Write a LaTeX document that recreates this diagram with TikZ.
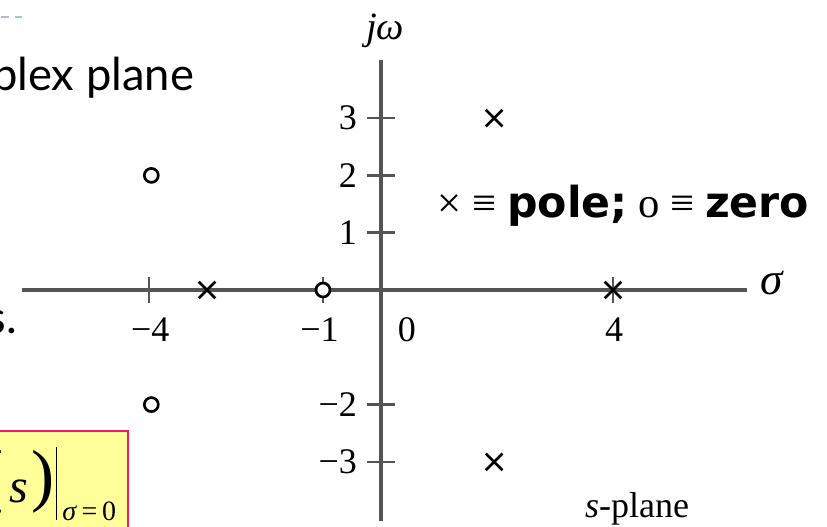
\documentclass[tikz,border=0pt]{standalone}
\usepackage{fontspec}
\setmainfont{Liberation Serif}
\newfontfamily\legendfont{DejaVu Sans}
\newfontfamily\slidefont{Lato}
\usepackage{xcolor}
\usetikzlibrary{shapes.misc}
\definecolor{axisgray}{HTML}{555555}
\definecolor{boxpink}{HTML}{F0196A}
\definecolor{boxyellow}{HTML}{FFFF99}
\definecolor{rulegray}{HTML}{A9C0D9}
\tikzset{
  pole/.style={draw=black,cross out,line width=2pt,minimum size=10.5pt,inner sep=0pt},
  zero/.style={draw=black,circle,fill=white,line width=2pt,minimum size=10.5pt,inner sep=0pt},
  ticklbl/.style={font=\fontsize{27}{31}\selectfont,inner sep=0pt},
  axisline/.style={axisgray,line width=2.4pt},
  tickline/.style={axisgray,line width=2pt},
}

\begin{document}
\begin{tikzpicture}[x=43.5pt,y=42.975pt]
  \useasboundingbox (-6.569,-4.119) rectangle (7.690,5.061);
  % what is left of the slide on the left
  \draw[rulegray,line width=1.6pt,dash pattern=on 6pt off 4.5pt] (-6.552,4.764) -- (-6.19,4.764);
  \node[font=\slidefont\fontsize{34}{40}\selectfont,anchor=base east,inner sep=0pt] (title) at (-3.22,3.490) {plex plane};
  \node[font=\slidefont\fontsize{34}{40}\selectfont,anchor=base east,inner sep=0pt] (bullet) at (-6.276,-0.768) {s.};
  \draw[boxpink,fill=boxyellow,line width=1.5pt] (-6.741,-2.461) rectangle (-4.362,-4.363);
  \node[font=\fontsize{52}{52}\selectfont,inner sep=0pt] (lpar) at (-6.707,-3.351) {(};
  \node[font=\fontsize{36}{36}\selectfont\itshape,inner sep=0pt] (sval) at (-6.241,-3.508) {s};
  \node[font=\fontsize{52}{52}\selectfont,inner sep=0pt] (rpar) at (-5.828,-3.351) {)};
  \draw[line width=1.1pt] (-5.595,-2.740) -- (-5.595,-4.014);
  \node[font=\fontsize{21}{21}\selectfont,anchor=base west,inner sep=0pt] (sub) at (-5.5,-4.031) {\textit{σ}\,=\,0};
  % axes and ticks
  \coordinate (xmin) at (-6.19,0); \coordinate (xmax) at (6.31,0);
  \coordinate (ymin) at (0,-4.03); \coordinate (ymax) at (0,4.01);
  \draw[axisline] (xmin) -- (xmax);
  \draw[axisline] (ymin) -- (ymax);
  \foreach \x in {-4,-1,4} \draw[tickline] (\x,-0.227) -- (\x,0.227);
  \foreach \y in {-3,-2,1,2,3} \draw[tickline] (-0.233,\y) -- (0.233,\y);
  \foreach \y/\t/\n in {3/3/3,2/2/2,1/1/1,-2/−2/m2,-3/−3/m3}
    \node[ticklbl,anchor=east] (ylbl\n) at (-0.41,\y) {\t};
  \node[ticklbl,anchor=base] (xlblm4) at (-3.98,-0.907) {−4};
  \node[ticklbl,anchor=base] (xlblm1) at (-1.06,-0.907) {−1};
  \node[ticklbl,anchor=base] (xlbl0) at (0.448,-0.907) {0};
  \node[ticklbl,anchor=base] (xlbl4) at (4.02,-0.907) {4};
  \node[font=\fontsize{29}{33}\selectfont,anchor=base,inner sep=0pt] (jw) at (0.07,4.38) {\textit{jω}};
  \node[font=\fontsize{34}{38}\selectfont,anchor=base,inner sep=0pt] (sigma) at (6.74,-0.087) {\textit{σ}};
  \node[ticklbl,anchor=base] (splane) at (4.414,-3.979) {\textit{s}-plane};
  % poles and zeros
  \node[pole] (p1) at (1.95,3) {};
  \node[pole] (p2) at (1.95,-3) {};
  \node[pole] (p3) at (-3,0) {};
  \node[pole] (p4) at (4,0) {};
  \node[zero] (z1) at (-3.96,2) {};
  \node[zero] (z2) at (-3.96,-2) {};
  \node[zero] (z3) at (-1,0) {};
  \node[anchor=base,inner sep=0pt,font=\fontsize{32}{38}\selectfont] (legend) at (4.181,1.257) {× ≡ {\legendfont\bfseries pole;} o ≡ {\legendfont\bfseries zero}};
\end{tikzpicture}
\end{document}
